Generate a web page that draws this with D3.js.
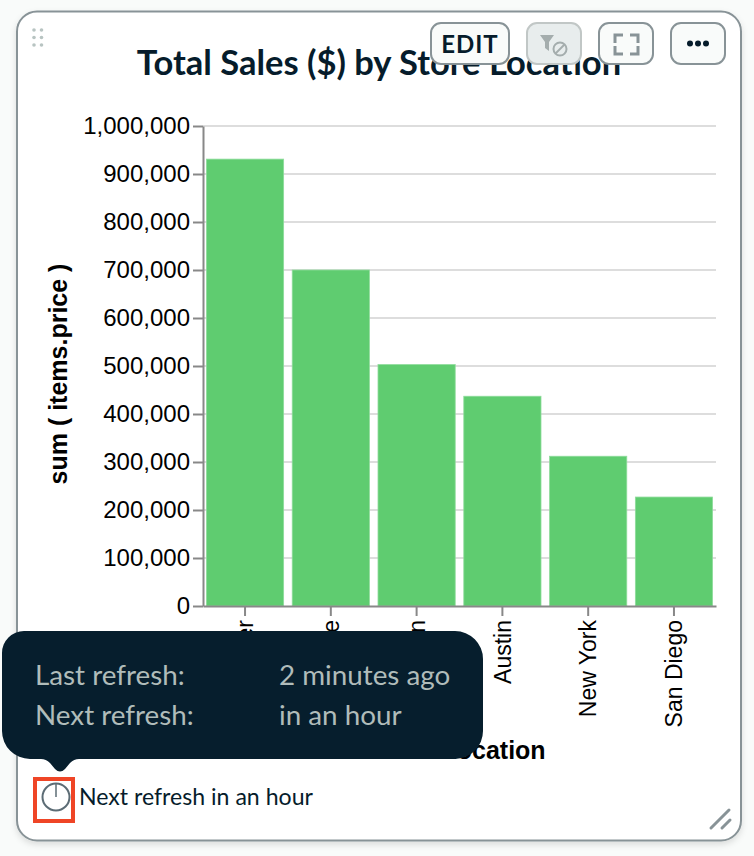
<!DOCTYPE html>
<html>
<head>
<meta charset="utf-8">
<script src="https://cdn.jsdelivr.net/npm/d3@7"></script>
<style>
  html, body { margin: 0; padding: 0; background: #f9fbfa; }
  svg { display: block; }
  .ui { font-family: Lato, "Noto Sans", sans-serif; }
  .axis text { font-family: "Liberation Sans", Arial, sans-serif; font-size: 24px; fill: #000; }
  .axis.bottom text { font-size: 23px; }
  .axis-title { font-family: "Liberation Sans", Arial, sans-serif; font-size: 25px; font-weight: 700; fill: #000; }
</style>
</head>
<body>
<svg id="chart" width="754" height="856"></svg>
<script>
const stores = ["Denver", "Seattle", "London", "Austin", "New York", "San Diego"];
const sales = [931000, 700000, 503000, 437000, 312000, 227000];
const yTicks = [0, 100000, 200000, 300000, 400000, 500000, 600000, 700000, 800000, 900000, 1000000];
const chartTitle = "Total Sales ($) by Store Location";
const yTitle = "sum ( items.price )";
const xTitle = "storeLocation";
const tooltipRows = [["Last refresh:", "2 minutes ago"], ["Next refresh:", "in an hour"]];
const footer = "Next refresh in an hour";

const svg = d3.select("#chart");
const ink = "#061c2b";

// card
const shadow = svg.append("defs").append("filter").attr("id", "soft")
  .attr("x", "-10%").attr("y", "-10%").attr("width", "120%").attr("height", "120%");
shadow.append("feDropShadow").attr("dx", 0).attr("dy", 3).attr("stdDeviation", 3)
  .attr("flood-color", "#000").attr("flood-opacity", 0.12);

svg.append("rect")
  .attr("x", 17).attr("y", 11.5).attr("width", 724).attr("height", 829)
  .attr("rx", 20)
  .attr("fill", "#fff").attr("stroke", "#889397").attr("stroke-width", 2)
  .attr("filter", "url(#soft)");

// drag handle
const dots = svg.append("g").attr("fill", "#b8c4c2");
d3.range(3).forEach(r => d3.range(2).forEach(c => {
  dots.append("circle").attr("cx", 34 + c * 7.5).attr("cy", 30 + r * 7.5).attr("r", 1.8);
}));

svg.append("text").attr("class", "ui")
  .attr("x", 379).attr("y", 75).attr("text-anchor", "middle")
  .attr("font-size", 34.5).attr("font-weight", 700).attr("fill", ink)
  .text(chartTitle);

// plot
const x = d3.scaleBand().domain(stores).range([203, 716]).paddingInner(0.1).paddingOuter(0.04);
const y = d3.scaleLinear().domain([0, 1000000]).range([606, 126]);

svg.append("g").attr("stroke", "#ddd").attr("stroke-width", 2)
  .selectAll("line").data(yTicks.slice(1)).join("line")
  .attr("x1", 203).attr("x2", 716)
  .attr("y1", d => y(d)).attr("y2", d => y(d));

svg.append("g").selectAll("rect").data(stores).join("rect")
  .attr("x", d => x(d))
  .attr("y", (d, i) => y(sales[i]))
  .attr("width", x.bandwidth())
  .attr("height", (d, i) => y(0) - y(sales[i]))
  .attr("fill", "#5fcc70")
  .attr("stroke", "#8fdc9c").attr("stroke-width", 0.8);

const yAxis = svg.append("g").attr("class", "axis")
  .attr("transform", "translate(203,0)")
  .call(d3.axisLeft(y).tickValues(yTicks).tickFormat(d3.format(",")).tickSize(10).tickSizeOuter(0).tickPadding(3));
const xAxis = svg.append("g").attr("class", "axis bottom")
  .attr("transform", "translate(0,606)")
  .call(d3.axisBottom(x).tickSize(10).tickSizeOuter(0));
xAxis.selectAll("text")
  .attr("transform", "rotate(-90)")
  .attr("text-anchor", "end")
  .attr("x", -14).attr("y", 0).attr("dy", "0.36em");
[yAxis, xAxis].forEach(a => {
  a.selectAll("line").attr("stroke", "#888").attr("stroke-width", 2);
  a.selectAll("path").attr("stroke", "#888").attr("stroke-width", 2);
});

svg.append("text").attr("class", "axis-title")
  .attr("transform", "translate(67,374) rotate(-90)")
  .attr("text-anchor", "middle").text(yTitle);
svg.append("text").attr("class", "axis-title")
  .attr("x", 463).attr("y", 759).attr("text-anchor", "middle").text(xTitle);

// toolbar buttons, they sit on top of the title
function button(bx, w, fill, stroke) {
  svg.append("rect").attr("x", bx).attr("y", 23).attr("width", w).attr("height", 41)
    .attr("rx", 10).attr("fill", fill).attr("stroke", stroke).attr("stroke-width", 2);
}
button(431, 78, "#f9fbfa", "#889397");
svg.append("text").attr("class", "ui")
  .attr("x", 470).attr("y", 53).attr("text-anchor", "middle")
  .attr("font-size", 24).attr("font-weight", 700).attr("letter-spacing", 1).attr("fill", ink)
  .text("EDIT");

button(527, 54, "#e8eded", "#c1c7c6");
svg.append("path").attr("d", "M540 35h14l-5 7v9l-4-3v-6z").attr("fill", "#a4adad");
svg.append("circle").attr("cx", 560).attr("cy", 49).attr("r", 6.5)
  .attr("fill", "none").attr("stroke", "#a4adad").attr("stroke-width", 2);
svg.append("line").attr("x1", 555.5).attr("y1", 53.5).attr("x2", 564.5).attr("y2", 44.5)
  .attr("stroke", "#a4adad").attr("stroke-width", 2);

button(599, 54, "#f9fbfa", "#889397");
svg.append("path")
  .attr("d", "M615 43v-8h8M630 35h8v8M638 46v8h-8M623 54h-8v-8")
  .attr("fill", "none").attr("stroke", "#889397").attr("stroke-width", 3);

button(671, 54, "#f9fbfa", "#889397");
svg.append("g").attr("fill", ink).selectAll("circle").data([-8, 0, 8]).join("circle")
  .attr("cx", d => 698 + d).attr("cy", 43.5).attr("r", 3);

// resize grip
svg.append("path").attr("d", "M711 828L729 810M722 828L730 820")
  .attr("stroke", "#889397").attr("stroke-width", 3).attr("stroke-linecap", "round").attr("fill", "none");

// footer
svg.append("circle").attr("cx", 56).attr("cy", 797).attr("r", 13.5)
  .attr("fill", "#fff").attr("stroke", "#5c6c75").attr("stroke-width", 2);
svg.append("line").attr("x1", 56).attr("y1", 784).attr("x2", 56).attr("y2", 797)
  .attr("stroke", "#5c6c75").attr("stroke-width", 1.5);
svg.append("rect").attr("x", 35).attr("y", 779).attr("width", 38).attr("height", 42)
  .attr("fill", "none").attr("stroke", "#ef4526").attr("stroke-width", 4);
svg.append("text").attr("class", "ui")
  .attr("x", 79).attr("y", 805).attr("font-size", 23.1).attr("fill", ink)
  .text(footer);

// refresh tooltip
svg.append("path")
  .attr("d", "M24 631H455a28 28 0 0 1 28 28V731a28 28 0 0 1 -28 28H79q-5 0 -9 4l-5 6q-5 5 -10 0l-5 -6q-4 -4 -9 -4H30a28 28 0 0 1 -28 -28V653a22 22 0 0 1 22 -22z")
  .attr("fill", "#061e2d");
const rows = svg.append("g").attr("class", "ui").attr("font-size", 27.8).attr("fill", "#b0bcba");
tooltipRows.forEach((r, i) => {
  rows.append("text").attr("x", 35).attr("y", 685 + i * 40).text(r[0]);
  rows.append("text").attr("x", 279).attr("y", 685 + i * 40).text(r[1]);
});
</script>
</body>
</html>
